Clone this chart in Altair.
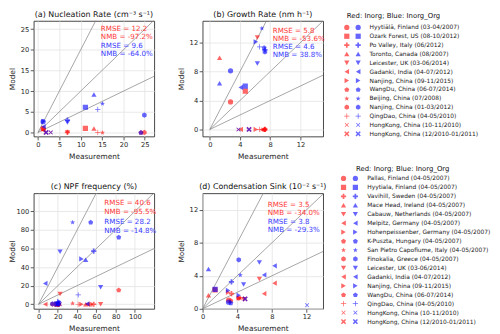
import math
import altair as alt
import pandas as pd

# ---------------- data ----------------
SITES_AB = [
    "Hyytiälä, Finland (03-04/2007)",
    "Ozark Forest, US (08-10/2012)",
    "Po Valley, Italy (06/2012)",
    "Toronto, Canada (08/2007)",
    "Leicester, UK (03-06/2014)",
    "Gadanki, India (04-07/2012)",
    "Nanjing, China (09-11/2015)",
    "WangDu, China (06-07/2014)",
    "Beijing, China (07/2008)",
    "Nanjing, China (01-03/2012)",
    "QingDao, China (04-05/2010)",
    "HongKong, China (10-11/2010)",
    "HongKong, China (12/2010-01/2011)",
]
SITES_CD = [
    "Pallas, Finland (04-05/2007)",
    "Hyytiala, Finland (04-05/2007)",
    "Vavihill, Sweden (04-05/2007)",
    "Mace Head, Ireland (04-05/2007)",
    "Cabauw, Netherlands (04-05/2007)",
    "Melpitz, Germany (04-05/2007)",
    "Hohenpeissenber, Germany (04-05/2007)",
    "K-Puszta, Hungary (04-05/2007)",
    "San Pietro Capofiume, Italy (04-05/2007)",
    "Finokalia, Greece (04-05/2007)",
    "Leicester, UK (03-06/2014)",
    "Gadanki, India (04-07/2012)",
    "Nanjing, China (09-11/2015)",
    "WangDu, China (06-07/2014)",
    "QingDao, China (04-05/2010)",
    "HongKong, China (10-11/2010)",
    "HongKong, China (12/2010-01/2011)",
]

# (a) Nucleation rate
A_MEAS = [1.2, 11.1, 6.9, 13.1, 6.9, 1.3, 1.3, 24.1, 15.1, 24.9, 14.0, 3.0, 1.9]
A_INORG = [1.0, 1.0, 0.0, 0.95, 0.0, 0.5, 0.8, 0.0, 0.0, 0.0, 0.0, 0.0, 0.0]
A_ORG = [2.6, 6.1, 3.0, 9.2, 2.4, 1.4, 2.7, 0.0, 7.0, 4.2, 5.6, 0.0, 0.0]
A_STATS = ["RMSE = 12.2", "NMB = -97.2%", "RMSE = 9.6", "NMB = -64.0%"]

# (b) Growth rate
B_MEAS = [2.75, 4.7, 7.3, 1.3, 6.3, 4.1, 6.1, 7.2, 6.9, 7.3, 6.6, 3.8, 5.2]
B_INORG = [3.8, 5.3, 0.0, 9.9, 12.7, 0.0, 0.0, 0.0, 0.0, 0.0, 0.0, 0.0, 0.0]
B_ORG = [8.1, 6.0, 11.0, 6.4, 9.1, 5.8, 12.1, 11.3, 14.0, 10.7, 11.4, 0.0, 0.0]
B_STATS = ["RMSE = 5.8", "NMB = -53.6%", "RMSE = 4.6", "NMB = 38.8%"]

# (c) NPF frequency
C_MEAS = [20.5, 18.9, 57.2, 48.9, 64.4, 50.5, 44.5, 83.2, 35.3, 14.4, 22.3, 6.9, 21.5, 54.1, 41.1, 22.0, 19.5]
C_INORG = [0.0, 0.0, 0.0, 0.0, 0.0, 0.0, 0.0, 15.4, 1.1, 0.0, 11.1, 0.0, 0.0, 0.0, 0.0, 0.0, 0.0]
C_ORG = [1.1, 0.5, 57.3, 48.0, 18.2, 0.5, 48.8, 72.3, 88.3, 0.5, 56.6, 22.4, 3.0, 88.3, 10.0, 0.0, 0.0]
C_STATS = ["RMSE = 40.6", "NMB = -95.5%", "RMSE = 28.2", "NMB = -14.8%"]

# (d) Condensation sink
D_MEAS = [3.0, 1.44, 3.33, 0.68, 6.55, 8.3, 2.95, 3.26, 4.35, 4.17, 4.73, 7.1, 4.17, None, None, 12.05, 4.9]
D_INORG = [1.05, 2.3, 1.83, 1.64, 3.6, 3.1, 2.0, 1.0, 1.3, 1.3, 1.16, 1.83, 1.3, None, None, None, 1.2]
D_ORG = [0.8, 2.35, 3.27, 4.83, 5.62, 5.2, 2.23, 0.72, 4.1, 5.94, 2.95, 4.1, 1.64, None, None, 0.44, 1.2]
D_STATS = ["RMSE = 3.5", "NMB = -34.0%", "RMSE = 3.8", "NMB = -29.3%"]

SLOPES = [0.5, 1.0, 2.0]
GROUPS = ["Inorg", "Inorg_Org"]
LEGEND_TITLE = "Red: Inorg; Blue: Inorg_Org"

# ---------------- marker shapes (SVG paths in [-1, 1]) ----------------
def _fmt(pts):
    return "M" + " L".join(f"{x:.3f},{y:.3f}" for x, y in pts) + " Z"

def regular(n, start, r=1.0, yshift=0.0):
    return [(r * math.cos(math.radians(start + 360 * k / n)),
             r * math.sin(math.radians(start + 360 * k / n)) + yshift) for k in range(n)]

def star_pts(n=5, r1=1.0, r2=0.42):
    pts = []
    for k in range(2 * n):
        r = r1 if k % 2 == 0 else r2
        a = math.radians(-90 + 180 * k / n)
        pts.append((r * math.cos(a), r * math.sin(a) + 0.08))
    return pts

def hollow(pts, frac=0.45):
    cx = sum(p[0] for p in pts) / len(pts)
    cy = sum(p[1] for p in pts) / len(pts)
    inner = [(cx + (x - cx) * frac, cy + (y - cy) * frac) for x, y in reversed(pts)]
    return _fmt(pts) + " " + _fmt(inner)

def spokes(angles, w=0.14):
    parts = []
    for a in angles:
        r = math.radians(a)
        dx, dy = math.cos(r), math.sin(r)
        px, py = -dy * w, dx * w
        sx, sy = -dx * w, -dy * w
        pts = [(sx + px, sy + py), (dx + px, dy + py), (dx - px, dy - py), (sx - px, sy - py)]
        parts.append(_fmt(pts))
    return " ".join(parts)

def circ(cx, cy, r):
    return (f"M{cx - r:.3f},{cy:.3f} A{r:.3f},{r:.3f} 0 1,0 {cx + r:.3f},{cy:.3f} "
            f"A{r:.3f},{r:.3f} 0 1,0 {cx - r:.3f},{cy:.3f} Z")

def heart_pts(n=28):
    pts = []
    for k in range(n):
        t = 2 * math.pi * k / n
        x = 16 * math.sin(t) ** 3
        y = -(13 * math.cos(t) - 5 * math.cos(2 * t) - 2 * math.cos(3 * t) - math.cos(4 * t))
        pts.append((x / 16, (y - 2.5) / 16))
    return pts

PLUS_FILLED = "M-0.33,-1 L0.33,-1 L0.33,-0.33 L1,-0.33 L1,0.33 L0.33,0.33 L0.33,1 L-0.33,1 L-0.33,0.33 L-1,0.33 L-1,-0.33 L-0.33,-0.33 Z"
X_FILLED = "M-1,-0.6 L-0.6,-1 L0,-0.4 L0.6,-1 L1,-0.6 L0.4,0 L1,0.6 L0.6,1 L0,0.4 L-0.6,1 L-1,0.6 L-0.4,0 Z"
PENTAGON = _fmt(regular(5, -90, 1.0, 0.1))
HEXAGON = _fmt(regular(6, -90, 1.0))
OCTAGON = _fmt(regular(8, 22.5, 1.0))
STAR = _fmt(star_pts())
THIN_PLUS = spokes([0, 90, 180, 270])
THIN_X = spokes([45, 135, 225, 315])
DOT = circ(0, 0, 0.42)
CLUB = circ(0, -0.5, 0.36) + " " + circ(-0.45, 0.12, 0.36) + " " + circ(0.45, 0.12, 0.36) + " M0,-0.1 L-0.28,0.95 L0.28,0.95 Z"
HEART_OPEN = hollow(heart_pts(), 0.45)
TRI_OPEN = hollow(regular(3, -90, 1.15, 0.25), 0.4)
THIN_DIAMOND = "M0,-1 L0.6,0 L0,1 L-0.6,0 Z"

SHAPES_AB = ["circle", "square", PLUS_FILLED, "triangle-up", "triangle-down", "triangle-left",
             "triangle-right", PENTAGON, STAR, HEXAGON, THIN_PLUS, THIN_X, X_FILLED]
SHAPES_CD = [HEART_OPEN, CLUB, DOT, OCTAGON,
             spokes([90, 210, 330]), spokes([270, 30, 150]), spokes([180, 300, 60]), spokes([0, 120, 240]),
             TRI_OPEN, THIN_DIAMOND, "triangle-down", "triangle-left", "triangle-right",
             PENTAGON, THIN_PLUS, THIN_X, X_FILLED]

RED = "#ff0000"
BLUE = "#0000ff"
TXT_RED = "#ff3a3a"
TXT_BLUE = "#3a3aff"
FONT = "DejaVu Sans"
W, H = 122, 117
MSIZE = 28


def color_scale():
    return alt.Scale(domain=GROUPS, range=[RED, BLUE])


def panel(sites, shapes, meas, inorg, org, xdom, ydom, ticks, title, stats, tx, ty0, tdy):
    rows = []
    for grp, vals in (("Inorg", inorg), ("Inorg_Org", org)):
        for s, m, v in zip(sites, meas, vals):
            if m is None or v is None:
                continue
            rows.append({"site": s, "meas": m, "model": v, "group": grp})
    pts = pd.DataFrame(rows)
    xs = alt.Scale(domain=xdom, nice=False, zero=False)
    ys = alt.Scale(domain=ydom, nice=False, zero=False)
    far = 10 * max(xdom[1], ydom[1])
    ref = pd.DataFrame({"x0": [0.0] * len(SLOPES), "y0": [0.0] * len(SLOPES),
                        "x1": [far] * len(SLOPES), "y1": [k * far for k in SLOPES]})
    xa = alt.Axis(values=ticks, title="Measurement", labelFlush=False, titlePadding=4.5)
    ya = alt.Axis(values=ticks, title="Model", minExtent=14.5, maxExtent=14.5, titlePadding=2.5)
    rules = alt.Chart(ref).mark_rule(clip=True, color="#808080", strokeWidth=0.7).encode(
        x=alt.X("x0:Q", scale=xs, axis=xa), y=alt.Y("y0:Q", scale=ys, axis=ya),
        x2="x1:Q", y2="y1:Q")
    points = alt.Chart(pts).mark_point(filled=True, size=MSIZE, opacity=0.6, clip=True).encode(
        x=alt.X("meas:Q", scale=xs, axis=xa),
        y=alt.Y("model:Q", scale=ys, axis=ya),
        shape=alt.Shape("site:N", scale=alt.Scale(domain=sites, range=shapes), legend=None),
        color=alt.Color("group:N", scale=color_scale(), legend=None),
    )
    layers = [rules, points]
    for i, (txt, col) in enumerate(zip(stats, [TXT_RED, TXT_RED, TXT_BLUE, TXT_BLUE])):
        layers.append(
            alt.Chart(pd.DataFrame({"t": [txt]})).mark_text(
                align="left", baseline="middle", fontSize=7.2, font=FONT, color=col
            ).encode(x=alt.value(tx), y=alt.value(ty0 + i * tdy), text="t:N")
        )
    return alt.layer(*layers).properties(
        width=W, height=H,
        title=alt.TitleParams(title, fontSize=8, font=FONT, fontWeight="normal",
                              color="#111111", offset=2, anchor="middle"),
    )


def legend_panel(sites, shapes, xdom, ydom, title_dx, title_offset):
    rows = []
    for i, s in enumerate(sites):
        rows.append({"site": s, "row": i, "col": 0, "group": "Inorg"})
        rows.append({"site": s, "row": i, "col": 1, "group": "Inorg_Org"})
    sym = pd.DataFrame(rows)
    lab = pd.DataFrame({"site": sites, "row": list(range(len(sites))), "col": [2] * len(sites)})
    xs = alt.Scale(domain=xdom, nice=False, zero=False)
    ys = alt.Scale(domain=ydom, nice=False, zero=False, reverse=True)
    marks = alt.Chart(sym).mark_point(filled=True, size=MSIZE, opacity=0.6).encode(
        x=alt.X("col:Q", scale=xs, axis=None),
        y=alt.Y("row:Q", scale=ys, axis=None),
        shape=alt.Shape("site:N", scale=alt.Scale(domain=sites, range=shapes), legend=None),
        color=alt.Color("group:N", scale=color_scale(), legend=None),
    )
    labels = alt.Chart(lab).mark_text(align="left", baseline="middle", fontSize=6, font=FONT,
                                      color="#222222").encode(
        x=alt.X("col:Q", scale=xs, axis=None),
        y=alt.Y("row:Q", scale=ys, axis=None),
        text="site:N",
    )
    return alt.layer(marks, labels).properties(
        width=110, height=H,
        view=alt.ViewBackground(stroke="transparent"),
        title=alt.TitleParams(LEGEND_TITLE, fontSize=7, font=FONT, fontWeight="normal",
                              color="#111111", anchor="start", frame="group",
                              dx=title_dx, offset=title_offset),
    )


pa = panel(SITES_AB, SHAPES_AB, A_MEAS, A_INORG, A_ORG, [-1.0, 27.2], [-0.96, 27.0],
           [0, 5, 10, 15, 20, 25], "(a) Nucleation Rate (cm⁻³ s⁻¹)", A_STATS, 68, 8.5, 8.3)
pb = panel(SITES_AB, SHAPES_AB, B_MEAS, B_INORG, B_ORG, [-0.95, 15.0], [-0.96, 15.0],
           [0, 4, 8, 12], "(b) Growth Rate (nm h⁻¹)", B_STATS, 71, 10.0, 8.2)
pc = panel(SITES_CD, SHAPES_CD, C_MEAS, C_INORG, C_ORG, [-5.1, 120.0], [-4.9, 119.5],
           [0, 20, 40, 60, 80, 100], "(c) NPF frequency (%)", C_STATS, 71.5, 10, 9.4)
pd_ = panel(SITES_CD, SHAPES_CD, D_MEAS, D_INORG, D_ORG, [0.0, 13.9], [0.0, 14.0],
            [0, 4, 8, 12], "(d) Condensation Sink (10⁻² s⁻¹)", D_STATS, 66, 11.6, 8.6)

leg_top = legend_panel(SITES_AB, SHAPES_AB, [2.174, 2.174 + 110 / 11.5], [-0.735, 12.294], -25, 1.5)
leg_bot = legend_panel(SITES_CD, SHAPES_CD, [2.36, 2.36 + 110 / 12.0], [1.656, 14.57], -15.7, 4)

chart = alt.concat(
    pa, pb, leg_top, pc, pd_, leg_bot,
    columns=3, bounds="flush", spacing=alt.RowColnumber(row=57.5, column=49),
).properties(padding=0).configure_view(
    stroke="#333333", strokeWidth=0.9
).configure_axis(
    labelFont=FONT, titleFont=FONT, labelFontSize=6.8, titleFontSize=7.5,
    titleFontWeight="normal", labelColor="#262626", titleColor="#262626",
    tickColor="#333333", tickSize=3.5, tickWidth=0.8, domain=False,
    grid=True, gridColor="#e3e3e3", gridWidth=0.8, labelPadding=1.5,
)

chart.save("out.html", embed_options={"renderer": "svg", "actions": False})
